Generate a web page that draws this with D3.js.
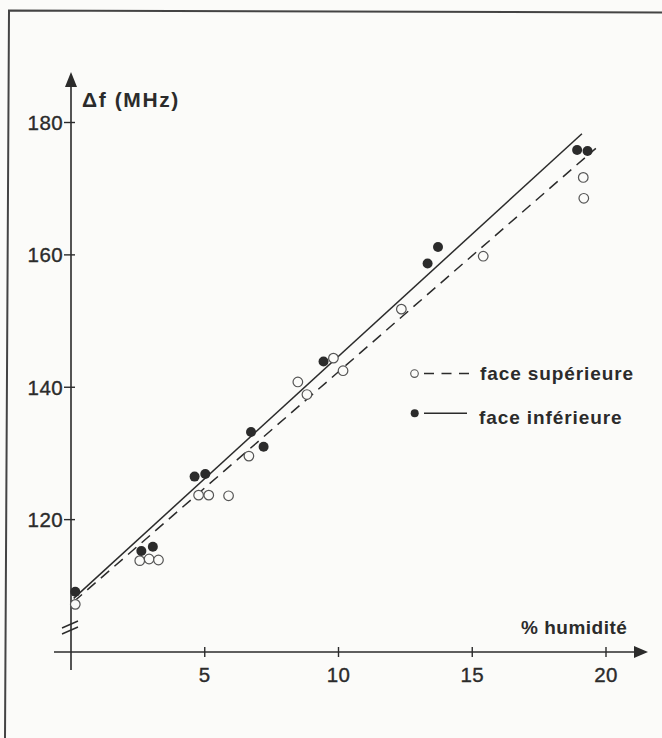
<!DOCTYPE html>
<html><head><meta charset="utf-8">
<script src="https://cdn.jsdelivr.net/npm/d3@7"></script>
<style>
html,body{margin:0;padding:0;background:#fbfbf9;}
svg{display:block;}
text{font-family:"Liberation Sans",Arial,Helvetica,sans-serif;fill:#2b2b2b;}
</style></head><body>
<svg id="c" width="662" height="738"></svg>
<script>
// ---- data ----
const xTicks = [5, 10, 15, 20];
const yTicks = [120, 140, 160, 180];
const superX = [0.16, 2.57, 2.92, 3.27, 4.77, 5.15, 5.89, 6.65, 8.48, 8.82, 9.81, 10.17, 12.35, 15.41, 19.15, 19.17];
const superY = [107.2, 113.8, 114.05, 113.9, 123.7, 123.7, 123.6, 129.6, 140.8, 138.9, 144.4, 142.5, 151.8, 159.8, 171.7, 168.55];
const inferX = [0.16, 2.63, 3.06, 4.62, 5.02, 6.73, 7.2, 9.44, 13.33, 13.72, 18.92, 19.31];
const inferY = [109.1, 115.25, 115.9, 126.5, 126.9, 133.25, 131.0, 143.9, 158.7, 161.2, 175.85, 175.7];
const superFit = [[0.1, 107.6], [19.62, 176.1]];
const inferFit = [[0.1, 108.1], [19.1, 178.3]];
const legendLabels = ["face supérieure", "face inférieure"];

const svg = d3.select("#c");
const ink = "#2b2b2b";
const bg = "#fbfbf9";
const x = d3.scaleLinear().domain([0, 20]).range([71, 606]);
const y = d3.scaleLinear().domain([100, 180]).range([652, 122.5]);

// frame (scan border)
svg.append("path").attr("d", "M5,738 L9,10.5 L662,12.5")
  .attr("fill", "none").attr("stroke", "#444").attr("stroke-width", 2);

// axes lines
const X0 = x(0), Y0 = y(100);
svg.append("line").attr("x1", 54).attr("x2", 636).attr("y1", Y0).attr("y2", Y0)
  .attr("stroke", ink).attr("stroke-width", 1.6);
svg.append("path").attr("d", `M648,${Y0} L634,${Y0-6} L634,${Y0+6} Z`).attr("fill", ink);
svg.append("line").attr("x1", X0).attr("x2", X0).attr("y1", 670).attr("y2", 86)
  .attr("stroke", ink).attr("stroke-width", 1.6);
svg.append("path").attr("d", `M${X0},72 L${X0-6},87 L${X0+6},87 Z`).attr("fill", ink);

// axis break
[624, 630].forEach(v => svg.append("line").attr("x1", X0-9).attr("x2", X0+7)
  .attr("y1", v+4).attr("y2", v-3).attr("stroke", ink).attr("stroke-width", 1.4));

const labelStyle = sel => sel.attr("font-size", 20.5).attr("stroke", ink).attr("stroke-width", 0.35)
  .attr("letter-spacing", 0.4);

// x ticks
const xg = svg.append("g");
xTicks.forEach(t => {
  xg.append("line").attr("x1", x(t)).attr("x2", x(t)).attr("y1", Y0-5).attr("y2", Y0+5)
    .attr("stroke", ink).attr("stroke-width", 1.4);
  xg.append("text").attr("x", x(t)).attr("y", 682).attr("text-anchor", "middle")
    .call(labelStyle).text(t);
});
// y ticks
const yg = svg.append("g");
yTicks.forEach(t => {
  yg.append("line").attr("x1", X0-7).attr("x2", X0+4).attr("y1", y(t)).attr("y2", y(t))
    .attr("stroke", ink).attr("stroke-width", 1.4);
  yg.append("text").attr("x", X0-8).attr("y", y(t)+7.5).attr("text-anchor", "end")
    .call(labelStyle).text(t);
});

// axis titles
svg.append("text").attr("x", 82).attr("y", 107).attr("font-size", 21).attr("font-weight", "bold")
  .attr("letter-spacing", 1.6).text("Δf (MHz)");
svg.append("text").attr("x", 521).attr("y", 634).attr("font-size", 19).attr("font-weight", "bold")
  .attr("letter-spacing", 0.5).text("% humidité");

// fit lines
const line = d3.line().x(d => x(d[0])).y(d => y(d[1]));
svg.append("path").attr("d", line(inferFit)).attr("fill", "none").attr("stroke", ink).attr("stroke-width", 1.5);
svg.append("path").attr("d", line(superFit)).attr("fill", "none").attr("stroke", ink)
  .attr("stroke-width", 1.5).attr("stroke-dasharray", "11,7");

// points
svg.append("g").selectAll("circle").data(superX).join("circle")
  .attr("cx", d => x(d)).attr("cy", (d, i) => y(superY[i])).attr("r", 4.8)
  .attr("fill", bg).attr("stroke", "#555").attr("stroke-width", 1.2);
svg.append("g").selectAll("circle").data(inferX).join("circle")
  .attr("cx", d => x(d)).attr("cy", (d, i) => y(inferY[i])).attr("r", 5)
  .attr("fill", ink);

// legend
const lg = svg.append("g");
lg.append("circle").attr("cx", 414.5).attr("cy", 373.6).attr("r", 3.8)
  .attr("fill", bg).attr("stroke", "#555").attr("stroke-width", 1.1);
lg.append("line").attr("x1", 424).attr("x2", 469).attr("y1", 373.6).attr("y2", 373.6)
  .attr("stroke", ink).attr("stroke-width", 1.5).attr("stroke-dasharray", "10,7.5");
lg.append("circle").attr("cx", 414.7).attr("cy", 413.2).attr("r", 4).attr("fill", ink);
lg.append("line").attr("x1", 424).attr("x2", 467).attr("y1", 413.2).attr("y2", 413.2)
  .attr("stroke", ink).attr("stroke-width", 1.5);
lg.append("text").attr("x", 480).attr("y", 380).attr("font-size", 19).attr("font-weight", "bold")
  .attr("letter-spacing", 0.9).text(legendLabels[0]);
lg.append("text").attr("x", 479).attr("y", 424).attr("font-size", 19).attr("font-weight", "bold")
  .attr("letter-spacing", 0.9).text(legendLabels[1]);
</script>
</body></html>
